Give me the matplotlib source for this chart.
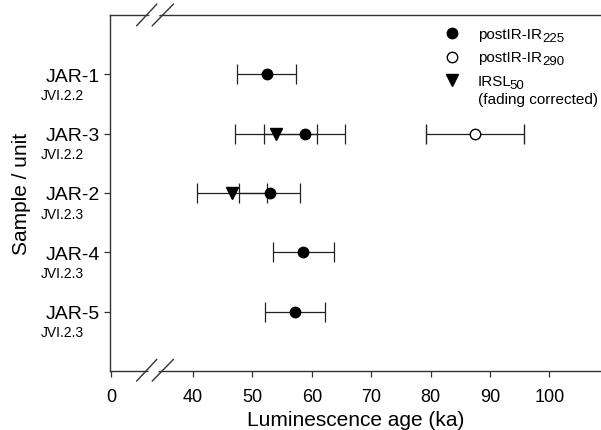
import numpy as np
import matplotlib
matplotlib.use('Agg')
import matplotlib.pyplot as plt
from matplotlib.patches import Polygon
from matplotlib.lines import Line2D

plt.rcParams['font.family'] = ['Liberation Sans', 'DejaVu Sans']

# samples, top to bottom
samples = ['JAR-1', 'JAR-3', 'JAR-2', 'JAR-4', 'JAR-5']
units = ['JVI.2.2', 'JVI.2.2', 'JVI.2.3', 'JVI.2.3', 'JVI.2.3']

# postIR-IR225 ages (ka) and errors
pir225_age = [52.4, 58.8, 52.9, 58.6, 57.2]
pir225_err = [5.0, 6.8, 5.2, 5.1, 5.0]

# postIR-IR290 (only JAR-3)
pir290_sample = ['JAR-3']
pir290_age = [87.5]
pir290_err = [8.2]

# IRSL50 fading corrected
irsl_sample = ['JAR-3', 'JAR-2']
irsl_age = [53.9, 46.5]
irsl_err = [6.9, 5.9]

xtick_values = [0, 40, 50, 60, 70, 80, 90, 100]

# broken axis: 0 stays at 0, everything >= 40 shifted left
BREAK_SHIFT = 26.2


def to_axis(v):
    v = np.asarray(v, dtype=float)
    return np.where(v >= 40, v - BREAK_SHIFT, v)


W, H = 601, 431
fig = plt.figure(figsize=(W / 100, H / 100), dpi=100)
ax = fig.add_axes([110 / W, (H - 372) / H, (W - 110) / W, (372 - 16) / H])

ypos = {s: i + 1 for i, s in enumerate(samples)}

err_kw = dict(ecolor='#222222', elinewidth=0.9, capsize=7.5, capthick=0.9, linestyle='none', zorder=3)

ax.errorbar(to_axis(irsl_age), [ypos[s] for s in irsl_sample], xerr=irsl_err,
            fmt='v', color='black', markersize=8, **err_kw)
ax.errorbar(to_axis(pir225_age), [ypos[s] for s in samples], xerr=pir225_err,
            fmt='o', color='black', markersize=7.5, **err_kw)
ax.errorbar(to_axis(pir290_age), [ypos[s] for s in pir290_sample], xerr=pir290_err,
            fmt='o', color='black', mfc='white', markersize=7.5, markeredgewidth=1, **err_kw)

ax.set_xlim(-0.17, (W - 111) / 5.94)
ax.set_ylim(6, 0)

ax.set_xticks(to_axis(xtick_values))
ax.set_xticklabels([str(v) for v in xtick_values], fontsize=13)
ax.set_yticks(range(1, len(samples) + 1))
ax.set_yticklabels(samples, fontsize=14)
ax.tick_params(direction='out', length=4.5, width=0.9, color='#333333')
ax.tick_params(axis='x', pad=8)
ax.tick_params(axis='y', pad=3)

for s, u in zip(samples, units):
    ax.annotate(u, xy=(0, ypos[s]), xycoords=('axes fraction', 'data'),
                xytext=(-18.5, -15), textcoords='offset points',
                ha='right', va='center', fontsize=10)

ax.spines['right'].set_visible(False)
for side in ['top', 'bottom', 'left']:
    ax.spines[side].set_linewidth(1.0)
    ax.spines[side].set_color('#333333')

ax.set_xlabel('Luminescence age (ka)', fontsize=15, labelpad=3)
ax.set_ylabel('Sample / unit', fontsize=15, labelpad=10)


# break marks on top and bottom spines (pixel coords)
def px(x, y):
    return (x / W, 1 - y / H)


for yc in [16.7, 372]:
    x1a, x1b = 136.7, 156.7
    x2a, x2b = 152.3, 173.3
    y_lo, y_hi = yc + 10, yc - 11.5
    gap = Polygon([px(x1a + 3, y_lo), px(x1b + 3, y_hi), px(x2b - 3, y_hi), px(x2a - 3, y_lo)],
                  closed=True, transform=fig.transFigure, facecolor='white',
                  edgecolor='none', zorder=5)
    fig.patches.append(gap)
    for xa, xb in [(x1a, x1b), (x2a, x2b)]:
        (xa_f, ya_f), (xb_f, yb_f) = px(xa, y_lo), px(xb, y_hi)
        fig.lines.append(Line2D([xa_f, xb_f], [ya_f, yb_f], transform=fig.transFigure,
                                color='#333333', lw=1.0, zorder=6))

# legend, drawn by hand (subscripts as separate, slightly smaller text)
leg_marker_x = 452
leg_text_x = 478
leg_rows = [
    (34, 39, 'o', 'black', 'postIR-IR', '225', 0.3),
    (58, 62, 'o', 'white', 'postIR-IR', '290', 0.3),
    (81, 86, 'v', 'black', 'IRSL', '50', -2.0),
]
for my, ty, mk, fc, label, sub, dx in leg_rows:
    mx, myf = px(leg_marker_x, my)
    fig.lines.append(Line2D([mx], [myf], transform=fig.transFigure, marker=mk,
                            markersize=7.5 if mk == 'o' else 8, color='black', mfc=fc,
                            linestyle='none'))
    tx, tyf = px(leg_text_x, ty)
    t = fig.text(tx, tyf, label, fontsize=11, ha='left', va='baseline')
    ax.annotate(sub, xy=(1, 0), xycoords=t, xytext=(dx, -2.0), textcoords='offset points',
                fontsize=9.5, ha='left', va='bottom', annotation_clip=False)
tx, tyf = px(leg_text_x, 104)
fig.text(tx, tyf, '(fading corrected)', fontsize=11, ha='left', va='baseline')

fig.savefig('out.png', dpi=100)
